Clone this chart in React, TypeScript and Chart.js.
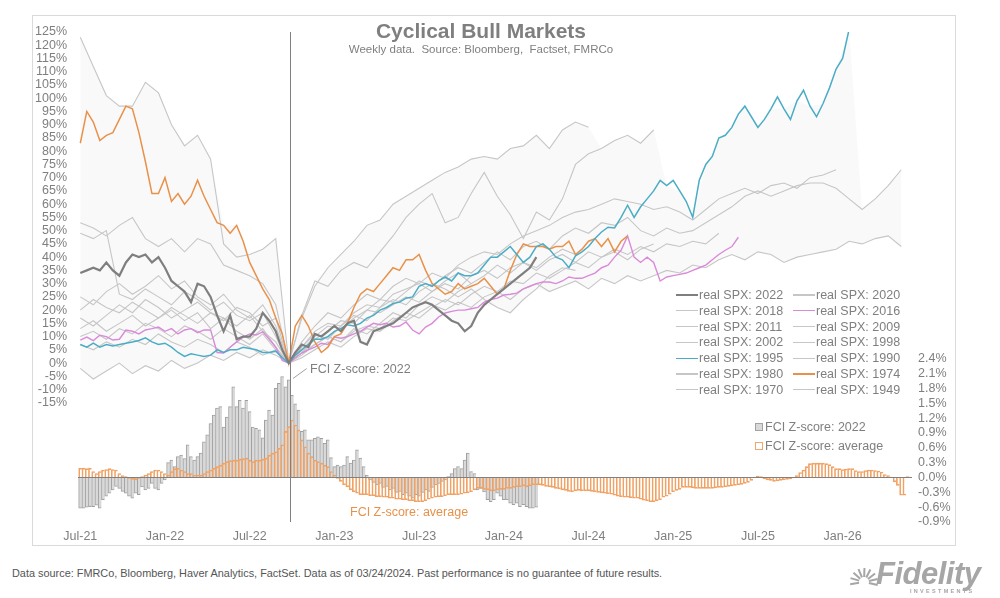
import React, { useEffect, useRef } from "react";
import { Chart, registerables } from "chart.js";
Chart.register(...registerables);

// ---------- axis / tick data ----------
const xTickWeeks = [0, 26, 52, 78, 104, 130, 156, 182, 208, 234];
const xTickLabels = ["Jul-21", "Jan-22", "Jul-22", "Jan-23", "Jul-23", "Jan-24", "Jul-24", "Jan-25", "Jul-25", "Jan-26"];
const troughWeek = 64.3; // week of the 2022 bear-market low (weeks since Jul-21)

// ---------- real SPX series (% from trough), step = weeks between points, starting at Jul-21 ----------
const stepColored = 2;
const stepGrey = 4;

const spx2022 = [34, 35, 36, 35, 38, 35, 33, 38, 41, 40, 41, 38, 40, 36, 31, 29, 27, 23, 30, 29, 25, 18, 12, 18, 9, 10, 10, 13, 19, 16, 12, 5, 0,
  4, 7, 6, 11, 10, 12, 14, 12, 15, 16, 8, 7, 12, 13, 14, 15, 17, 19, 21, 22, 23, 22, 20, 18, 16, 15, 12, 14, 19, 22, 24, 26, 28, 30, 32, 34, 36, 40];
const spx1974 = [83, 95, 91, 84, 86, 87, 92, 97, 96, 87, 76, 64, 64, 70, 61, 64, 60, 63, 69, 63, 58, 53, 52, 49, 52, 46, 38, 33, 28, 24, 17, 11, 0,
  14, 18, 14, 8, 4, 6, 10, 11, 15, 21, 26, 28, 27, 30, 33, 36, 35, 39, 39, 41, 35, 30, 28, 26, 27, 30, 28, 29, 30, 32, 29, 26, 28, 35, 41, 45, 44, 44, 44, 43, 44, 44, 46, 41, 43, 46, 47, 44, 47, 42, 46, 48];
const spx1995 = [7, 6, 7.5, 6, 7, 6.5, 7, 7.5, 8, 8.5, 9.5, 8, 7, 7.5, 6, 4, 2.5, 3.5, 3, 2.5, 3, 5, 4, 5, 5, 6, 5.5, 5, 4, 4, 4.5, 2, 0,
  3, 5, 7, 9, 9, 10, 12, 13, 14.5, 14, 15, 17, 18, 20, 21, 22.5, 23, 24.5, 25, 29, 30, 29, 31, 32.5, 31, 34, 33, 33, 34, 37,
  40, 40, 42, 44, 41, 38, 40, 44, 45, 43, 40, 39, 36, 40.5, 42, 44, 47, 49.5, 51.3, 51, 55, 59.6, 55, 59, 62, 65, 69, 67, 69, 65,
  61, 55, 69, 75, 78, 85, 86, 89, 94, 97, 93, 89, 92, 96, 100.5, 96, 92, 99, 103, 97, 93, 98, 104, 111, 115, 126];
const spx2016 = [8.7, 9.8, 8.5, 10.5, 10, 8.7, 9, 12.5, 12, 11, 12.5, 13, 13.6, 12, 13, 11, 12.5, 13, 11.5, 12.5, 12.5, 4, 3.8, 6, 8, 9.8, 11, 10.6, 11.8, 9, 6, 1, 0,
  2, 3.8, 5, 6, 7.5, 7, 9.8, 9.4, 10, 11, 12, 13.6, 15, 14.5, 15, 13.6, 14, 15.5, 12.5, 11, 13.6, 15, 17.4, 18.9, 19.5, 20, 20, 20.5, 21, 23,
  24, 24.5, 25.7, 26, 26.4, 28, 29, 30, 30.6, 30.6, 30, 31, 32.5, 32, 32, 33, 34, 36, 37, 40, 42.6, 48, 40, 38, 40, 38, 31, 32.5, 33, 33.5,
  34, 35, 36, 37, 39, 41, 42.6, 44, 47.5];
const spx2020 = [17, 14, 18, 22, 19, 24, 21, 17, 20, 23, 19, 16, 21, 19, 14, 17, 0,
  5, 10, 14, 13, 17, 20, 19, 22, 25, 23, 27, 30, 28, 33, 35, 32, 36, 38, 35, 39, 41, 38, 42, 40, 43, 41, 44, 42, 45, 44, 46, 45, 49];
const spx2018 = [10, 12, 9, 13, 11, 15, 13, 10, 14, 12, 9, 13, 10, 7, 11, 5, 0,
  6, 11, 9, 14, 18, 16, 21, 24, 22, 27, 30, 28, 25, 28, 24, 21, 19, 24, 28, 33, 36, 35];
const spx2011 = [13, 16, 12, 15, 18, 14, 17, 20, 16, 19, 13, 17, 12, 9, 13, 6, 0,
  8, 14, 19, 17, 22, 26, 24, 29, 32, 30, 27, 31, 34, 30, 33, 37, 34, 38, 36, 40, 43, 41];
const spx2009 = [53, 51, 48, 52, 55, 47, 44, 47, 42, 47, 45, 37, 35, 33, 30, 22, 0,
  18, 31, 29, 35, 38, 36, 42, 48, 55, 60, 64, 53, 55, 64, 72, 63, 56, 47, 57, 54, 62, 75, 79, 81, 84, 86, 83, 88];
const spx2002 = [7, 5, 8, 6, 9, 7, 11, 8, 6, 9, 7, 4, 8, 6, 3, 5, 0,
  4, 7, 10, 8, 13, 11, 15, 19, 17, 22, 25, 23, 27, 30];
const spx1998 = [49, 47, 50, 26, 24, 28, 25, 22, 27, 24, 20, 23, 18, 16, 19, 10, 0,
  6, 12, 15, 14, 19, 22, 21, 26, 28, 30, 34, 32, 37, 40, 42, 41, 45, 48, 50, 52, 55, 57, 58, 60, 62, 61, 60, 58, 59, 57, 54, 58, 62, 64, 66, 64, 67, 68, 66, 70, 71, 73];
const spx1990 = [25, 22, 27, 30, 26, 29, 33, 28, 31, 25, 22, 26, 20, 17, 22, 14, 0,
  4, 9, 12, 16, 15, 20, 24, 23, 27, 31, 29, 33, 36, 34, 38, 42, 39, 44, 46, 43, 48, 51, 49, 53, 52, 55, 50, 48, 51, 49, 50, 53, 56, 59, 63, 65, 63, 65, 67, 68, 68, 66, 62, 58, 62, 67, 73];
const spx1980 = [123, 112, 101, 97, 97, 106, 102, 90, 82, 86, 77, 45, 40, 41, 43, 47, 0,
  17, 29, 36, 41, 46, 52, 54, 60, 63, 66, 69, 72, 74, 77, 78, 77, 81, 82, 86, 81, 88, 91, 89];
const spx1970 = [-2, -6, -3, 0, -4, -1, -3, 1, -2, 0, 3, 1, 4, 2, 5, 3, 0,
  2, 5, 8, 6, 10, 13, 12, 16, 19, 17, 21, 24, 22, 26, 29, 27, 31, 30, 34, 32, 35, 38, 36, 40, 42, 39, 43, 45];
const spx1949 = [20, 24, 21, 19, 23, 20, 17, 21, 18, 15, 19, 17, 14, 18, 12, 8, 0,
  3, 7, 10, 8, 12, 14, 13, 17, 16, 19, 22, 20, 23, 21, 25, 27, 24, 28, 30, 27, 29, 31, 28, 32, 30, 33, 31, 33, 35, 34, 37, 36, 39, 41, 39, 42, 41, 38, 40, 41, 42, 43, 46, 45, 47, 48, 44];

// ---------- FCI Z-scores (weekly, starting Jul-21) ----------
const fci2022 = [
  -0.62, -0.62, -0.60, -0.59, -0.59, -0.56, -0.62, -0.45, -0.38, -0.32,
  -0.25, -0.18, -0.22, -0.28, -0.32, -0.38, -0.42, -0.32, -0.35, -0.19,
  -0.25, -0.22, -0.12, -0.22, -0.25, -0.12, -0.05, 0.30, 0.35, 0.22,
  0.42, 0.45, 0.38, 0.66, 0.42, 0.35, 0.42, 0.49, 0.72, 0.86,
  1.09, 1.26, 1.40, 1.43, 1.02, 1.22, 1.43, 1.83, 1.43, 1.56,
  1.40, 1.56, 1.33, 1.02, 0.99, 0.96, 0.80, 1.16, 1.36, 1.26,
  1.80, 1.90, 2.04, 1.83, 1.97, 1.66, 1.49, 1.36, 0.93, 0.96,
  0.76, 0.76, 0.79, 0.82, 0.79, 0.69, 0.76, 0.40, 0.22, 0.25,
  0.22, 0.25, 0.42, 0.29, 0.35, 0.56, 0.39, 0.22, 0.05, -0.05,
  -0.10, -0.15, -0.12, -0.20, -0.18, -0.25, -0.22, -0.30, -0.28, -0.35,
  -0.32, -0.38, -0.42, -0.35, -0.38, -0.30, -0.25, -0.28, -0.20, -0.15,
  -0.12, -0.08, -0.05, 0.02, 0.08, 0.18, 0.22, 0.18, 0.35, 0.49,
  0.12, 0.08, -0.25, -0.22, -0.29, -0.45, -0.49, -0.45, -0.32, -0.38,
  -0.45, -0.45, -0.52, -0.55, -0.52, -0.59, -0.55, -0.59, -0.62, -0.62, -0.60];
const fciAverage = [
  0.19, 0.19, 0.18, 0.19, 0.12, 0.08, 0.12, 0.15, 0.16, 0.18,
  0.16, 0.15, 0.08, 0.04, 0.02, -0.02, -0.04, -0.05, -0.02, 0.02,
  0.05, 0.08, 0.12, 0.15, 0.15, 0.12, 0.08, 0.05, 0.12, 0.18,
  0.19, 0.15, 0.12, 0.08, 0.08, 0.05, 0.05, 0.05, 0.08, 0.12,
  0.15, 0.19, 0.22, 0.25, 0.29, 0.32, 0.34, 0.35, 0.35, 0.37,
  0.38, 0.39, 0.35, 0.32, 0.35, 0.35, 0.37, 0.39, 0.45, 0.49,
  0.52, 0.59, 0.66, 0.93, 1.03, 1.16, 1.06, 0.96, 0.76, 0.62,
  0.49, 0.42, 0.35, 0.32, 0.29, 0.25, 0.22, 0.12, 0.05, -0.02,
  -0.08, -0.15, -0.19, -0.25, -0.29, -0.32, -0.35, -0.35, -0.35, -0.37,
  -0.37, -0.39, -0.39, -0.40, -0.40, -0.42, -0.42, -0.44, -0.44, -0.45,
  -0.45, -0.47, -0.47, -0.49, -0.49, -0.49, -0.47, -0.44, -0.42, -0.40,
  -0.39, -0.39, -0.37, -0.35, -0.35, -0.35, -0.35, -0.34, -0.32, -0.31,
  -0.29, -0.25, -0.22, -0.22, -0.24, -0.25, -0.27, -0.27, -0.25, -0.24,
  -0.24, -0.22, -0.22, -0.20, -0.19, -0.19, -0.17, -0.19, -0.17, -0.15,
  -0.15, -0.15, -0.16, -0.18, -0.19, -0.20, -0.22, -0.23, -0.25, -0.26,
  -0.28, -0.29, -0.27, -0.26, -0.27, -0.27, -0.27, -0.28, -0.29, -0.30,
  -0.31, -0.32, -0.33, -0.34, -0.36, -0.38, -0.39, -0.40, -0.40, -0.41,
  -0.42, -0.42, -0.44, -0.46, -0.47, -0.49, -0.49, -0.47, -0.45, -0.40,
  -0.38, -0.34, -0.29, -0.26, -0.24, -0.20, -0.20, -0.20, -0.21, -0.22,
  -0.22, -0.22, -0.22, -0.22, -0.22, -0.21, -0.20, -0.20, -0.19, -0.18,
  -0.17, -0.16, -0.15, -0.14, -0.12, -0.10, -0.06, 0.01, 0.03, 0.02,
  -0.03, -0.05, -0.06, -0.08, -0.07, -0.06, -0.05, -0.04, -0.03, -0.01,
  0.04, 0.10, 0.15, 0.22, 0.28, 0.29, 0.29, 0.29, 0.29, 0.28,
  0.26, 0.22, 0.18, 0.18, 0.16, 0.17, 0.18, 0.18, 0.14, 0.12,
  0.12, 0.14, 0.15, 0.15, 0.14, 0.13, 0.11, 0.06, 0.04, 0.01,
  -0.09, -0.16, -0.36, -0.36, 0.02];

// ---------- styling ----------
const FONT = '"Liberation Sans", Arial, sans-serif';
const TEXT_GREY = "#7f7f7f";
const LIGHT_LINE = "#c6c6c6";

type SeriesDef = { label: string; values: number[]; step: number; color: string; width: number; order: number };

const seriesDefs: SeriesDef[] = [
  { label: "real SPX: 2022", values: spx2022, step: stepColored, color: "#7f7f7f", width: 2.2, order: 1 },
  { label: "real SPX: 2020", values: spx2020, step: stepGrey, color: LIGHT_LINE, width: 1.1, order: 20 },
  { label: "real SPX: 2018", values: spx2018, step: stepGrey, color: LIGHT_LINE, width: 1.1, order: 20 },
  { label: "real SPX: 2016", values: spx2016, step: stepColored, color: "#d98ad9", width: 1.4, order: 4 },
  { label: "real SPX: 2011", values: spx2011, step: stepGrey, color: LIGHT_LINE, width: 1.1, order: 20 },
  { label: "real SPX: 2009", values: spx2009, step: stepGrey, color: LIGHT_LINE, width: 1.1, order: 20 },
  { label: "real SPX: 2002", values: spx2002, step: stepGrey, color: LIGHT_LINE, width: 1.1, order: 20 },
  { label: "real SPX: 1998", values: spx1998, step: stepGrey, color: LIGHT_LINE, width: 1.1, order: 20 },
  { label: "real SPX: 1995", values: spx1995, step: stepColored, color: "#4bacc6", width: 1.5, order: 2 },
  { label: "real SPX: 1990", values: spx1990, step: stepGrey, color: LIGHT_LINE, width: 1.1, order: 20 },
  { label: "real SPX: 1980", values: spx1980, step: stepGrey, color: LIGHT_LINE, width: 1.1, order: 20 },
  { label: "real SPX: 1974", values: spx1974, step: stepColored, color: "#e8914a", width: 1.5, order: 3 },
  { label: "real SPX: 1970", values: spx1970, step: stepGrey, color: LIGHT_LINE, width: 1.1, order: 20 },
  { label: "real SPX: 1949", values: spx1949, step: stepGrey, color: LIGHT_LINE, width: 1.1, order: 20 },
];

function valueAt(s: SeriesDef, w: number): number | null {
  if (w % s.step !== 0) return null;
  const i = w / s.step;
  return i < s.values.length ? s.values[i] : null;
}

const envWeeks: number[] = [];
for (let w = 0; w <= 252; w += 4) envWeeks.push(w);
const envTop = envWeeks.map((w) => {
  const v = seriesDefs.map((s) => valueAt(s, w)).filter((x) => x !== null) as number[];
  return { x: w, y: Math.max(...v) };
});
const envBottom = envWeeks.map((w) => {
  const v = seriesDefs.map((s) => valueAt(s, w)).filter((x) => x !== null) as number[];
  return { x: w, y: Math.min(...v) };
});

const overlayPlugin = {
  id: "overlay",
  afterDatasetsDraw(chart: any) {
    const { ctx, chartArea, scales } = chart;
    ctx.save();
    ctx.strokeStyle = "#808080";
    ctx.lineWidth = 1;
    const y0 = Math.round(scales.y2.getPixelForValue(0)) + 0.5;
    ctx.beginPath();
    ctx.moveTo(chartArea.left, y0);
    ctx.lineTo(chartArea.right, y0);
    ctx.stroke();
    const xv = Math.round(scales.x.getPixelForValue(troughWeek)) + 0.5;
    ctx.beginPath();
    ctx.moveTo(xv, chartArea.top);
    ctx.lineTo(xv, chartArea.bottom);
    ctx.stroke();
    ctx.strokeStyle = "#a0a0a0";
    ctx.beginPath();
    ctx.moveTo(scales.x.getPixelForValue(65.3), scales.y2.getPixelForValue(2.0));
    ctx.lineTo(scales.x.getPixelForValue(69.5), scales.y2.getPixelForValue(2.2));
    ctx.stroke();
    ctx.restore();
  },
};

const tickFont = { family: FONT, size: 12.5 };
const stripeBorder = { left: 1, right: 0, top: 1, bottom: 1 };

export default function App() {
  const ref = useRef<HTMLCanvasElement>(null);
  useEffect(() => {
    const lineSets = seriesDefs.map((s) => ({
      type: "line" as const,
      label: s.label,
      data: s.values.map((v, i) => ({ x: i * s.step, y: v })),
      borderColor: s.color,
      borderWidth: s.width,
      pointRadius: 0,
      tension: 0,
      fill: false,
      yAxisID: "y",
      order: s.order,
    }));
    const chart = new Chart(ref.current as HTMLCanvasElement, {
      type: "line",
      data: {
        datasets: [
          ...lineSets,
          {
            type: "bar",
            label: "FCI Z-score: average",
            data: fciAverage.map((v, i) => ({ x: i, y: v })),
            backgroundColor: "rgba(255,255,255,0)",
            borderColor: "#f0a264",
            borderWidth: stripeBorder,
            borderSkipped: "start",
            grouped: false,
            barPercentage: 1,
            categoryPercentage: 1,
            yAxisID: "y2",
            order: 40,
          } as any,
          {
            type: "bar",
            label: "FCI Z-score: 2022",
            data: fci2022.map((v, i) => ({ x: i, y: v })),
            backgroundColor: "#d9d9d9",
            borderColor: "#a0a0a0",
            borderWidth: stripeBorder,
            borderSkipped: "start",
            grouped: false,
            barPercentage: 1,
            categoryPercentage: 1,
            yAxisID: "y2",
            order: 50,
          } as any,
          {
            type: "line",
            label: "range top",
            data: envTop,
            borderWidth: 0,
            borderColor: "rgba(0,0,0,0)",
            backgroundColor: "rgba(0,0,0,0.022)",
            pointRadius: 0,
            fill: "+1",
            yAxisID: "y",
            order: 100,
          },
          {
            type: "line",
            label: "range bottom",
            data: envBottom,
            borderWidth: 0,
            borderColor: "rgba(0,0,0,0)",
            pointRadius: 0,
            fill: false,
            yAxisID: "y",
            order: 101,
          },
        ],
      },
      options: {
        responsive: false,
        devicePixelRatio: 1,
        animation: false,
        layout: { padding: { left: 30, right: 45, top: 32, bottom: 8 } },
        plugins: { legend: { display: false }, tooltip: { enabled: false }, title: { display: false } },
        scales: {
          x: {
            type: "linear",
            offset: false,
            min: -0.7,
            max: 255.3,
            grid: { display: false, drawTicks: false, offset: false },
            border: { display: false },
            afterBuildTicks: (axis: any) => {
              axis.ticks = xTickWeeks.map((v) => ({ value: v }));
            },
            afterFit: (s: any) => {
              s.height = 30;
            },
            ticks: {
              autoSkip: false,
              maxRotation: 0,
              padding: 7,
              color: TEXT_GREY,
              font: tickFont,
              callback: (v: any) => {
                const i = xTickWeeks.indexOf(Number(v));
                return i >= 0 ? xTickLabels[i] : "";
              },
            },
          },
          y: {
            type: "linear",
            position: "left",
            min: -60,
            max: 125,
            grid: { display: false, drawTicks: false },
            border: { display: false },
            afterFit: (s: any) => {
              s.width = 48;
            },
            ticks: {
              stepSize: 5,
              autoSkip: false,
              padding: 11,
              color: TEXT_GREY,
              font: tickFont,
              callback: (v: any) => (Number(v) >= -15 ? `${Math.round(Number(v))}%` : ""),
            },
          },
          y2: {
            type: "linear",
            position: "right",
            min: -0.9,
            max: 9.0,
            grid: { display: false, drawTicks: false },
            border: { display: false },
            afterFit: (s: any) => {
              s.width = 43;
            },
            ticks: {
              stepSize: 0.3,
              autoSkip: false,
              padding: 6,
              color: TEXT_GREY,
              font: tickFont,
              callback: (v: any) => {
                const n = Math.round(Number(v) * 10) / 10;
                return n <= 2.45 ? `${n.toFixed(1)}%` : "";
              },
            },
          },
        },
      },
      plugins: [overlayPlugin],
    } as any);
    return () => chart.destroy();
  }, []);

  const legendText = (top: number, left: number, txt: string, color = TEXT_GREY, size = 12.5) => (
    <div style={{ position: "absolute", left, top, fontSize: size, lineHeight: `${size}px`, color, whiteSpace: "nowrap" }}>{txt}</div>
  );

  return (
    <div style={{ position: "absolute", left: 0, top: 0, width: 1000, height: 598, background: "#fff", fontFamily: FONT, overflow: "hidden" }}>
      <div style={{ position: "absolute", left: 32, top: 15, width: 922, height: 529, border: "1px solid #dadada" }} />
      <canvas ref={ref} width={1000} height={560} style={{ position: "absolute", left: 0, top: 0, width: 1000, height: 560 }} />
      <div style={{ position: "absolute", left: 0, top: 20, width: 962, textAlign: "center", fontSize: 21, lineHeight: "21px", fontWeight: "bold", color: TEXT_GREY }}>
        Cyclical Bull Markets
      </div>
      <div style={{ position: "absolute", left: 0, top: 44, width: 962, textAlign: "center", fontSize: 11.5, lineHeight: "11.5px", color: TEXT_GREY, whiteSpace: "pre" }}>
        {"Weekly data.  Source: Bloomberg,  Factset, FMRCo"}
      </div>
      {seriesDefs.map((s, i) => {
        const row = Math.floor(i / 2);
        const col = i % 2;
        const cy = 295 + row * 15.8;
        const sx = col === 0 ? 676 : 793;
        const h = s.order === 1 ? 2.5 : 1.3;
        return (
          <React.Fragment key={s.label}>
            <div style={{ position: "absolute", left: sx, top: cy - h / 2, width: 22, height: h, background: s.color }} />
            {legendText(cy - 6.1, sx + 23, s.label)}
          </React.Fragment>
        );
      })}
      <div style={{ position: "absolute", left: 755, top: 423, width: 6, height: 6, background: "#d9d9d9", border: "1px solid #a3a3a3" }} />
      {legendText(421, 765, "FCI Z-score: 2022")}
      <div style={{ position: "absolute", left: 755, top: 441.5, width: 6, height: 6, background: "#fff", border: "1px solid #f2a66a" }} />
      {legendText(439.5, 765, "FCI Z-score: average")}
      {legendText(363, 310, "FCI Z-score: 2022")}
      {legendText(506, 350, "FCI Z-score: average", "#e8914a")}
      <div style={{ position: "absolute", left: 12, top: 567.5, fontSize: 10.9, lineHeight: "10.9px", color: "#555", whiteSpace: "nowrap" }}>
        Data source: FMRCo, Bloomberg, Haver Analytics, FactSet. Data as of 03/24/2024. Past performance is no guarantee of future results.
      </div>
      <svg style={{ position: "absolute", left: 848, top: 560 }} width={30} height={28} viewBox="0 0 30 28">
        <g stroke="#a6a6a6" strokeWidth={2} fill="none">
          {Array.from({ length: 9 }).map((_, k) => {
            const a = Math.PI * (0.95 + k * 0.14);
            return <line key={k} x1={16 + Math.cos(a) * 5} y1={22 + Math.sin(a) * 5} x2={16 + Math.cos(a) * 14} y2={22 + Math.sin(a) * 14} />;
          })}
        </g>
      </svg>
      <div style={{ position: "absolute", left: 876, top: 558, fontSize: 31, lineHeight: "31px", fontWeight: "bold", fontStyle: "italic", color: "#a6a6a6", letterSpacing: -0.5 }}>
        Fidelity
      </div>
      <div style={{ position: "absolute", left: 910, top: 588, fontSize: 5.5, lineHeight: "6px", color: "#a6a6a6", letterSpacing: 2.3, fontWeight: "bold" }}>
        INVESTMENTS
      </div>
    </div>
  );
}
